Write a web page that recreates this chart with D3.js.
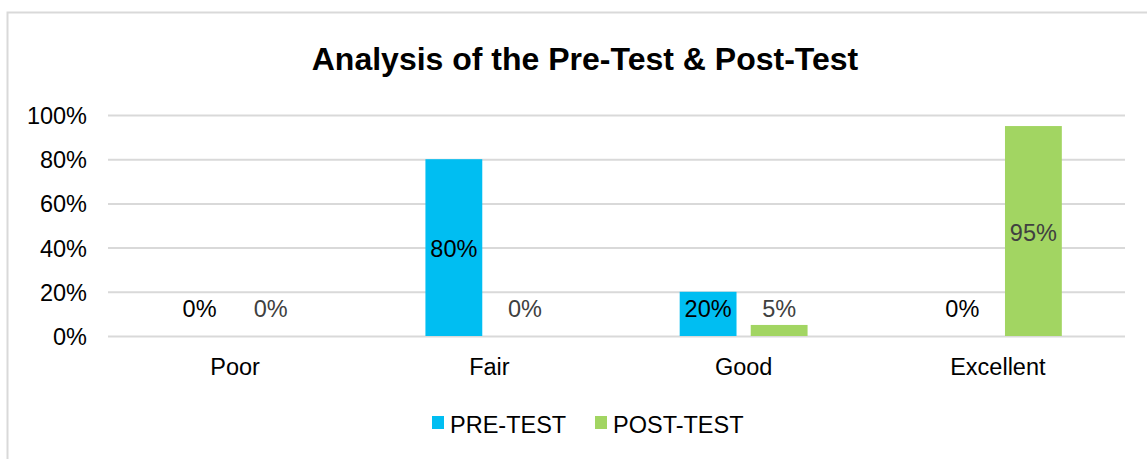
<!DOCTYPE html>
<html>
<head>
<meta charset="utf-8">
<script src="https://cdn.jsdelivr.net/npm/d3@7"></script>
<style>
  body { margin: 0; background: #fff; }
  text { font-family: "Liberation Sans", Arial, sans-serif; }
</style>
</head>
<body>
<div id="chart"></div>
<script>
const categories = ["Poor", "Fair", "Good", "Excellent"]
const seriesNames = ["PRE-TEST", "POST-TEST"]
const preTest = [0, 0.80, 0.20, 0]
const postTest = [0, 0, 0.05, 0.95]
const yTicks = [0, 0.2, 0.4, 0.6, 0.8, 1.0]

const colors = { "PRE-TEST": "#00bef2", "POST-TEST": "#a2d562" }
const labelColors = { "PRE-TEST": "#000", "POST-TEST": "#404040" }

const width = 1147, height = 459
const margin = { top: 115, left: 108, right: 22, bottom: 123 }

const svg = d3.select("#chart").append("svg")
  .attr("width", width)
  .attr("height", height)

// chart frame, runs off the right and bottom edge
svg.append("rect")
  .attr("x", 7.5).attr("y", 12.5)
  .attr("width", width + 20).attr("height", height + 20)
  .attr("fill", "none")
  .attr("stroke", "#d9d9d9")
  .attr("stroke-width", 2)

svg.append("text")
  .attr("x", 585).attr("y", 70)
  .attr("text-anchor", "middle")
  .style("font-size", "32px")
  .style("font-weight", "bold")
  .text("Analysis of the Pre-Test & Post-Test")

const x0 = d3.scaleBand()
  .domain(categories)
  .range([margin.left, width - margin.right])
  .paddingInner(0.497)
  .paddingOuter(0.2485)

const x1 = d3.scaleBand()
  .domain(seriesNames)
  .range([0, x0.bandwidth()])
  .paddingInner(0.2)

const y = d3.scaleLinear()
  .domain([0, 1])
  .range([height - margin.bottom, margin.top])

// gridlines
const yAxis = svg.append("g")
  .attr("transform", `translate(${margin.left},0)`)
  .call(d3.axisLeft(y).tickValues(yTicks).tickFormat(d3.format(".0%"))
    .tickSize(-(width - margin.left - margin.right)).tickPadding(21))
yAxis.select(".domain").remove()
yAxis.selectAll("line").attr("stroke", "#d9d9d9").attr("stroke-width", 2)
yAxis.selectAll("text")
  .style("font-size", "23.5px")
  .style("font-family", "Liberation Sans, Arial, sans-serif")
  .attr("fill", "#000")
  .attr("dy", "0.36em")

const rows = categories.map((c, i) => ({
  cat: c,
  vals: [{ s: "PRE-TEST", v: preTest[i] }, { s: "POST-TEST", v: postTest[i] }]
}))

const groups = svg.selectAll(".grp")
  .data(rows)
  .enter().append("g")
    .attr("class", "grp")
    .attr("transform", d => `translate(${x0(d.cat)},0)`)

groups.selectAll("rect")
  .data(d => d.vals)
  .enter().append("rect")
    .attr("x", d => x1(d.s))
    .attr("width", x1.bandwidth())
    .attr("y", d => y(d.v))
    .attr("height", d => y(0) - y(d.v))
    .attr("fill", d => colors[d.s])

groups.selectAll(".lbl")
  .data(d => d.vals)
  .enter().append("text")
    .attr("class", "lbl")
    .attr("x", d => x1(d.s) + x1.bandwidth() / 2)
    .attr("y", d => Math.min((y(d.v) + y(0)) / 2 + 9.5, y(0) - 19))
    .attr("text-anchor", "middle")
    .style("font-size", "23.5px")
    .attr("fill", d => labelColors[d.s])
    .text(d => d3.format(".0%")(d.v))

svg.selectAll(".cat")
  .data(categories)
  .enter().append("text")
    .attr("class", "cat")
    .attr("x", d => x0(d) + x0.bandwidth() / 2)
    .attr("y", 375)
    .attr("text-anchor", "middle")
    .style("font-size", "23.5px")
    .text(d => d)

// legend
const legendX = [432, 595]
const legend = svg.selectAll(".leg")
  .data(seriesNames)
  .enter().append("g")
    .attr("class", "leg")
    .attr("transform", (d, i) => `translate(${legendX[i]},416)`)
legend.append("rect")
  .attr("width", 12).attr("height", 13)
  .attr("fill", d => colors[d])
legend.append("text")
  .attr("x", 18).attr("y", 17)
  .style("font-size", "23.5px")
  .text(d => d)
</script>
</body>
</html>
